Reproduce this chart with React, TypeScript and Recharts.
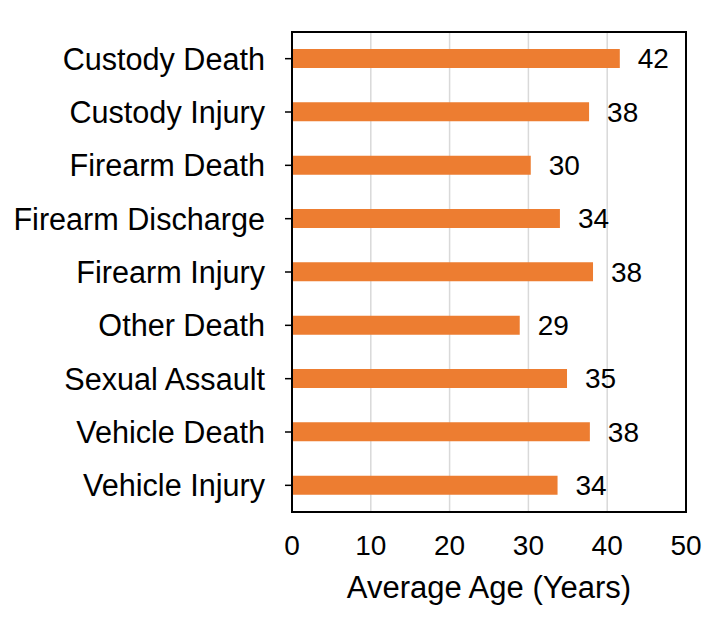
import React from 'react';
import { BarChart, Bar, XAxis, YAxis, CartesianGrid, LabelList, ReferenceArea } from 'recharts';

const categories = [
  'Custody Death',
  'Custody Injury',
  'Firearm Death',
  'Firearm Discharge',
  'Firearm Injury',
  'Other Death',
  'Sexual Assault',
  'Vehicle Death',
  'Vehicle Injury',
];

const averageAge = [41.6, 37.7, 30.3, 34.0, 38.2, 28.9, 34.9, 37.8, 33.7];

const xTicks = [0, 10, 20, 30, 40, 50];

const data = categories.map((name, i) => ({ name, age: averageAge[i] }));

const font = 'Arial, "Liberation Sans", sans-serif';

export default function App() {
  return (
    <div style={{ position: 'absolute', left: 0, top: 0, fontFamily: font }}>
      <BarChart
        width={725}
        height={621}
        layout="vertical"
        data={data}
        margin={{ top: 32, right: 39, bottom: 0, left: 0 }}
        barSize={19}
      >
        <CartesianGrid horizontal={false} stroke="#d9d9d9" strokeWidth={1.5} />
        <XAxis
          type="number"
          domain={[0, 50]}
          ticks={xTicks}
          height={109}
          tickLine={false}
          tickSize={0}
          tickMargin={23}
          axisLine={{ stroke: '#000', strokeWidth: 2 }}
          tick={{ fill: '#000', fontSize: 28, fontFamily: font }}
          label={{
            value: 'Average Age (Years)',
            position: 'insideBottom',
            offset: 23,
            fill: '#000',
            fontSize: 31,
            fontFamily: font,
          }}
        />
        <YAxis
          type="category"
          dataKey="name"
          width={292}
          interval={0}
          tickSize={7}
          tickMargin={20}
          tickLine={{ stroke: '#000', strokeWidth: 1.5 }}
          axisLine={{ stroke: '#000', strokeWidth: 2 }}
          tick={{ fill: '#000', fontSize: 30.6, fontFamily: font }}
        />
        <Bar dataKey="age" fill="#ED7D31" isAnimationActive={false}>
          <LabelList
            dataKey="age"
            position="right"
            offset={18}
            formatter={(v: any) => Math.round(Number(v))}
            fill="#000"
            fontSize={28}
            fontFamily={font}
          />
        </Bar>
        <ReferenceArea x1={0} x2={50} fill="none" fillOpacity={0} stroke="#000" strokeWidth={2} />
      </BarChart>
    </div>
  );
}
